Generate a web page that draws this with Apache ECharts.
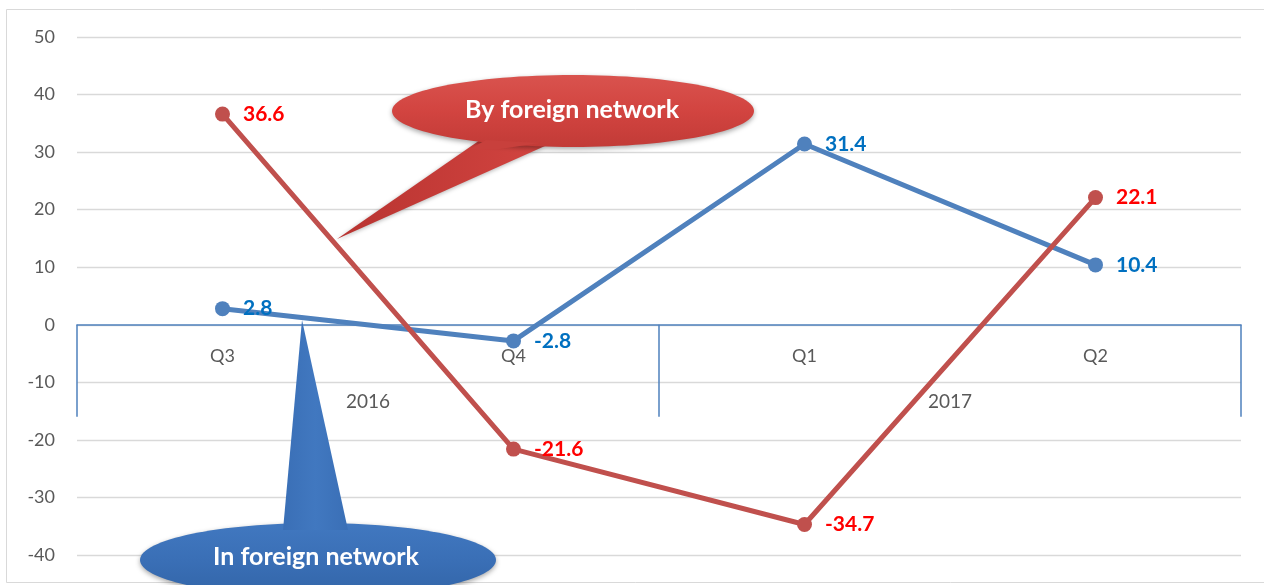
<!DOCTYPE html>
<html>
<head>
<meta charset="utf-8">
<script src="https://cdn.jsdelivr.net/npm/echarts@6/dist/echarts.min.js"></script>
<style>
html,body{margin:0;padding:0;background:#fff;}
#chart{width:1264px;height:585px;}
</style>
</head>
<body>
<div id="chart"></div>
<script>
const quarters = ['Q3', 'Q4', 'Q1', 'Q2'];
const years = ['2016', '2017'];
const byForeign = [36.6, -21.6, -34.7, 22.1];
const inForeign = [2.8, -2.8, 31.4, 10.4];
const yTicks = { min: -40, max: 50, interval: 10 };
const calloutBy = 'By foreign network';
const calloutIn = 'In foreign network';

const FONT = 'Lato';
const GRID = { left: 77, right: 23, top: 37, bottom: 30 };
const H = 585;
// distance from the grid bottom up to the value 0
const zeroOffset = -((H - GRID.top - GRID.bottom) * (0 - yTicks.min) / (yTicks.max - yTicks.min));

const chart = echarts.init(document.getElementById('chart'));

function labelCfg(color) {
  return {
    show: true, position: 'right', distance: 13,
    color: color, fontFamily: FONT, fontWeight: 'bold', fontSize: 21,
    formatter: p => p.value.toFixed(1)
  };
}

const option = {
  backgroundColor: '#fff',
  animation: false,
  grid: Object.assign({ containLabel: false, outerBoundsMode: 'none' }, GRID),
  xAxis: [
    {
      type: 'category', data: quarters, boundaryGap: true, position: 'bottom', offset: zeroOffset,
      axisLine: { onZero: false, lineStyle: { color: '#4F81BD', width: 1.5 } },
      axisTick: { show: false },
      axisLabel: { color: '#595959', fontFamily: FONT, fontSize: 18, margin: 22 },
      splitLine: { show: false }
    },
    {
      type: 'category', data: years, boundaryGap: true, position: 'bottom', offset: zeroOffset,
      axisLine: { show: false, onZero: false },
      axisTick: { show: true, length: 92, lineStyle: { color: '#4F81BD', width: 1.5 } },
      axisLabel: { color: '#595959', fontFamily: FONT, fontSize: 19, margin: 68 },
      splitLine: { show: false }
    }
  ],
  yAxis: {
    type: 'value', min: yTicks.min, max: yTicks.max, interval: yTicks.interval,
    axisLine: { show: false }, axisTick: { show: false },
    axisLabel: { color: '#595959', fontFamily: FONT, fontSize: 18, margin: 22 },
    splitLine: { lineStyle: { color: '#D9D9D9', width: 1.3 } }
  },
  series: [
    {
      name: 'In foreign network', type: 'line', data: inForeign, xAxisIndex: 0,
      symbol: 'circle', symbolSize: 15, z: 3,
      lineStyle: { color: '#4F81BD', width: 5 },
      itemStyle: { color: '#4F81BD' },
      label: labelCfg('#0070C0')
    },
    {
      name: 'By foreign network', type: 'line', data: byForeign, xAxisIndex: 0,
      symbol: 'circle', symbolSize: 15, z: 4,
      lineStyle: { color: '#C0504D', width: 5 },
      itemStyle: { color: '#C0504D' },
      label: labelCfg('#FF0000')
    }
  ],
  graphic: [
    { type: 'rect', z: -10, silent: true,
      shape: { x: 6.5, y: 9.5, width: 1270, height: 573 },
      style: { fill: 'none', stroke: '#D9D9D9', lineWidth: 1 } },
    // red callout
    { type: 'polygon', z: 100, silent: true,
      shape: { points: [[480, 140], [545, 146], [337, 239]] },
      style: { fill: new echarts.graphic.LinearGradient(0, 0, 1, 0, [
        { offset: 0, color: '#B83330' }, { offset: 1, color: '#D24440' }]),
        shadowBlur: 4, shadowColor: 'rgba(0,0,0,0.3)', shadowOffsetY: 1 } },
    { type: 'ellipse', z: 101, silent: true,
      shape: { cx: 573, cy: 111, rx: 181, ry: 36 },
      style: { fill: new echarts.graphic.LinearGradient(0, 0, 0, 1, [
        { offset: 0, color: '#D9534E' }, { offset: 0.5, color: '#D24440' }, { offset: 1, color: '#C23B37' }]),
        shadowBlur: 5, shadowColor: 'rgba(0,0,0,0.35)', shadowOffsetY: 2 } },
    { type: 'polygon', z: 102, silent: true,
      shape: { points: [[486, 140], [540, 143], [500, 149], [470, 149]] },
      style: { fill: '#C8403C' } },
    { type: 'text', z: 103, silent: true, x: 572, y: 110,
      style: { text: calloutBy, fill: '#fff', font: 'bold 25px Lato', align: 'center', verticalAlign: 'middle' } },
    // blue callout
    { type: 'ellipse', z: 101, silent: true,
      shape: { cx: 318, cy: 560, rx: 178, ry: 37 },
      style: { fill: new echarts.graphic.LinearGradient(0, 0, 0, 1, [
        { offset: 0, color: '#4178C0' }, { offset: 0.5, color: '#3A6FB6' }, { offset: 1, color: '#3265A8' }]),
        shadowBlur: 5, shadowColor: 'rgba(0,0,0,0.35)', shadowOffsetY: 2 } },
    { type: 'polygon', z: 102, silent: true,
      shape: { points: [[302, 320], [348, 530], [283, 530]] },
      style: { fill: new echarts.graphic.LinearGradient(0, 0, 1, 0, [
        { offset: 0, color: '#3A6FB6' }, { offset: 0.5, color: '#4178C0' }, { offset: 1, color: '#3A6FB6' }]) } },
    { type: 'text', z: 103, silent: true, x: 316, y: 557,
      style: { text: calloutIn, fill: '#fff', font: 'bold 25px Lato', align: 'center', verticalAlign: 'middle' } }
  ]
};
chart.setOption(option);
</script>
</body>
</html>
